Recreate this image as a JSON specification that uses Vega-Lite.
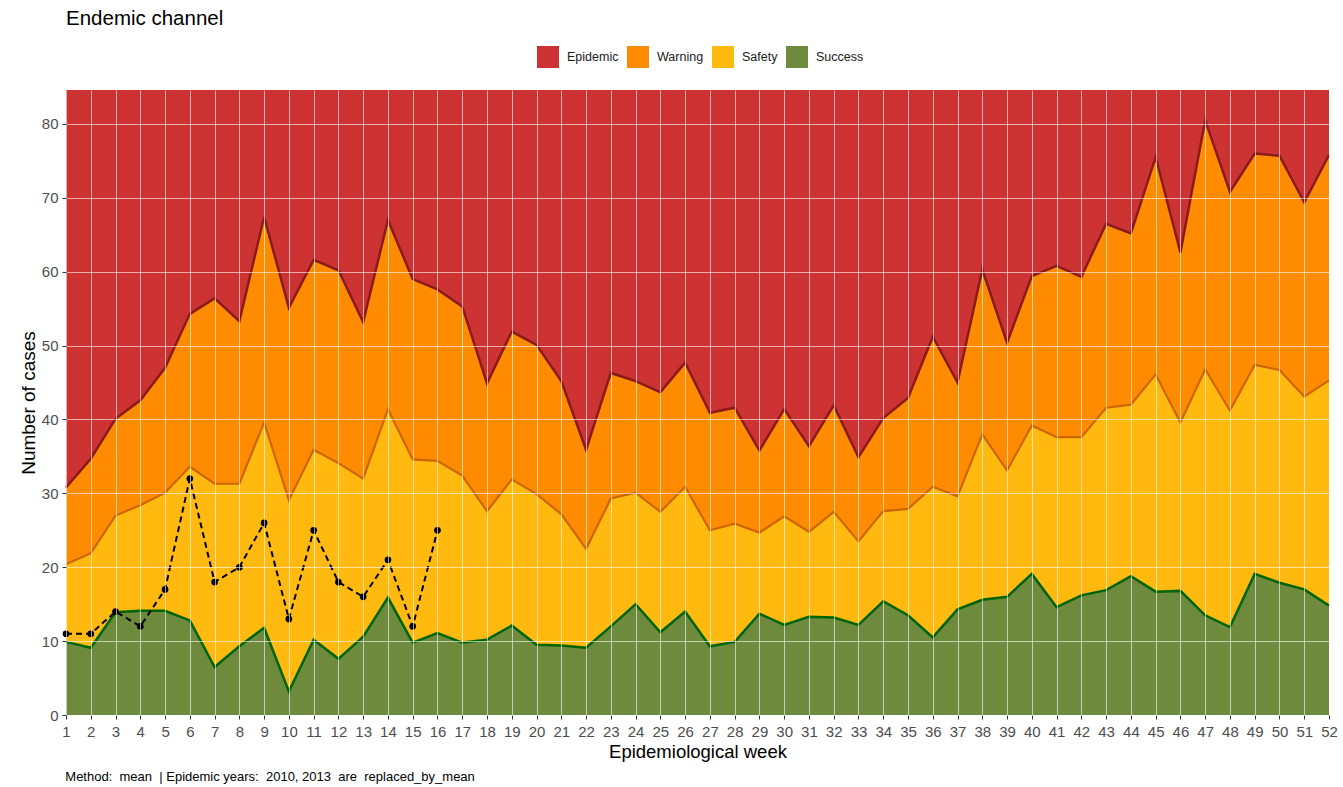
{
  "$schema": "https://vega.github.io/schema/vega-lite/v6.json",
  "background": "white",
  "padding": {"left": 19, "top": 8, "right": 5, "bottom": 2},
  "datasets": {
    "channel": [
      {"week": 1, "upper": 30.8, "middle": 20.4, "lower": 9.9},
      {"week": 2, "upper": 34.7, "middle": 21.9, "lower": 9.1},
      {"week": 3, "upper": 40.1, "middle": 27.0, "lower": 13.9},
      {"week": 4, "upper": 42.6, "middle": 28.4, "lower": 14.1},
      {"week": 5, "upper": 47.0, "middle": 30.1, "lower": 14.1},
      {"week": 6, "upper": 54.3, "middle": 33.6, "lower": 12.8},
      {"week": 7, "upper": 56.4, "middle": 31.3, "lower": 6.5},
      {"week": 8, "upper": 53.3, "middle": 31.3, "lower": 9.3},
      {"week": 9, "upper": 67.4, "middle": 39.6, "lower": 11.8},
      {"week": 10, "upper": 55.1, "middle": 29.1, "lower": 3.2},
      {"week": 11, "upper": 61.6, "middle": 35.9, "lower": 10.2},
      {"week": 12, "upper": 60.2, "middle": 34.1, "lower": 7.6},
      {"week": 13, "upper": 53.2, "middle": 32.0, "lower": 10.6},
      {"week": 14, "upper": 67.0, "middle": 41.4, "lower": 15.9},
      {"week": 15, "upper": 59.0, "middle": 34.6, "lower": 9.8},
      {"week": 16, "upper": 57.6, "middle": 34.4, "lower": 11.1},
      {"week": 17, "upper": 55.3, "middle": 32.4, "lower": 9.8},
      {"week": 18, "upper": 44.9, "middle": 27.6, "lower": 10.2},
      {"week": 19, "upper": 51.9, "middle": 31.9, "lower": 12.1},
      {"week": 20, "upper": 50.1, "middle": 29.9, "lower": 9.5},
      {"week": 21, "upper": 45.2, "middle": 27.2, "lower": 9.4},
      {"week": 22, "upper": 35.9, "middle": 22.5, "lower": 9.1},
      {"week": 23, "upper": 46.3, "middle": 29.3, "lower": 12.0},
      {"week": 24, "upper": 45.2, "middle": 30.1, "lower": 15.0},
      {"week": 25, "upper": 43.7, "middle": 27.5, "lower": 11.2},
      {"week": 26, "upper": 47.7, "middle": 30.9, "lower": 14.0},
      {"week": 27, "upper": 40.9, "middle": 25.0, "lower": 9.3},
      {"week": 28, "upper": 41.6, "middle": 25.9, "lower": 9.9},
      {"week": 29, "upper": 35.8, "middle": 24.7, "lower": 13.7},
      {"week": 30, "upper": 41.4, "middle": 26.9, "lower": 12.2},
      {"week": 31, "upper": 36.4, "middle": 24.8, "lower": 13.3},
      {"week": 32, "upper": 41.9, "middle": 27.5, "lower": 13.2},
      {"week": 33, "upper": 34.9, "middle": 23.5, "lower": 12.2},
      {"week": 34, "upper": 40.2, "middle": 27.6, "lower": 15.4},
      {"week": 35, "upper": 42.9, "middle": 27.9, "lower": 13.5},
      {"week": 36, "upper": 51.2, "middle": 30.9, "lower": 10.5},
      {"week": 37, "upper": 45.0, "middle": 29.6, "lower": 14.3},
      {"week": 38, "upper": 60.3, "middle": 38.0, "lower": 15.6},
      {"week": 39, "upper": 50.4, "middle": 33.1, "lower": 16.0},
      {"week": 40, "upper": 59.4, "middle": 39.2, "lower": 19.1},
      {"week": 41, "upper": 60.8, "middle": 37.6, "lower": 14.6},
      {"week": 42, "upper": 59.3, "middle": 37.6, "lower": 16.2},
      {"week": 43, "upper": 66.5, "middle": 41.6, "lower": 16.9},
      {"week": 44, "upper": 65.2, "middle": 42.0, "lower": 18.8},
      {"week": 45, "upper": 75.5, "middle": 46.1, "lower": 16.7},
      {"week": 46, "upper": 62.6, "middle": 39.6, "lower": 16.8},
      {"week": 47, "upper": 80.5, "middle": 46.8, "lower": 13.5},
      {"week": 48, "upper": 70.8, "middle": 41.2, "lower": 11.9},
      {"week": 49, "upper": 76.0, "middle": 47.4, "lower": 19.1},
      {"week": 50, "upper": 75.7, "middle": 46.7, "lower": 17.9},
      {"week": 51, "upper": 69.4, "middle": 43.1, "lower": 17.0},
      {"week": 52, "upper": 75.8, "middle": 45.3, "lower": 14.8}
    ],
    "observed": [
      {"week": 1, "cases": 11},
      {"week": 2, "cases": 11},
      {"week": 3, "cases": 14},
      {"week": 4, "cases": 12},
      {"week": 5, "cases": 17},
      {"week": 6, "cases": 32},
      {"week": 7, "cases": 18},
      {"week": 8, "cases": 20},
      {"week": 9, "cases": 26},
      {"week": 10, "cases": 13},
      {"week": 11, "cases": 25},
      {"week": 12, "cases": 18},
      {"week": 13, "cases": 16},
      {"week": 14, "cases": 21},
      {"week": 15, "cases": 12},
      {"week": 16, "cases": 25}
    ]
  },
  "title": {
    "text": "Method:\u00a0 mean\u00a0 | Epidemic years:\u00a0 2010, 2013\u00a0 are\u00a0 replaced_by_mean",
    "orient": "bottom",
    "anchor": "start",
    "frame": "bounds",
    "fontSize": 13,
    "fontWeight": "normal",
    "color": "#000000",
    "dx": 46,
    "offset": 10
  },
  "vconcat": [
    {
      "width": 1263,
      "height": 625,
      "title": {
        "text": "Endemic channel",
        "anchor": "start",
        "frame": "group",
        "fontSize": 20.5,
        "fontWeight": "normal",
        "color": "#000000",
        "offset": 61
      },
      "data": {"name": "channel"},
      "encoding": {
        "x": {
          "field": "week",
          "type": "quantitative",
          "title": "Epidemiological week",
          "scale": {"domain": [1, 52], "nice": false, "zero": false},
          "axis": {
            "values": [1,2,3,4,5,6,7,8,9,10,11,12,13,14,15,16,17,18,19,20,21,22,23,24,25,26,27,28,29,30,31,32,33,34,35,36,37,38,39,40,41,42,43,44,45,46,47,48,49,50,51,52],
            "format": "d",
            "labelFlush": false,
            "labelOverlap": false,
            "labelFontSize": 15,
            "labelColor": "#4D4D4D",
            "labelPadding": 5,
            "tickColor": "#333333",
            "tickSize": 4,
            "domain": false,
            "grid": true,
            "gridColor": "#FFFFFF",
            "gridOpacity": 0.6,
            "gridWidth": 1,
            "titleFontSize": 18.5,
            "titleFontWeight": "normal",
            "titleColor": "#000000",
            "titlePadding": 3,
            "zindex": 1
          }
        }
      },
      "layer": [
        {
          "mark": {"type": "area", "opacity": 1},
          "encoding": {
            "y": {
              "field": "upper",
              "type": "quantitative",
              "title": "Number of cases",
              "scale": {"domain": [0, 84.6], "nice": false, "zero": true},
              "axis": {
                "values": [0,5,10,15,20,25,30,35,40,45,50,55,60,65,70,75,80],
                "labelExpr": "datum.value % 10 == 0 ? datum.label : ''",
                "tickOpacity": {"condition": {"test": "datum.value % 10 == 0", "value": 1}, "value": 0},
                "labelFontSize": 15,
                "labelColor": "#4D4D4D",
                "labelPadding": 4,
                "tickColor": "#333333",
                "tickSize": 4,
                "domain": false,
                "grid": true,
                "gridColor": "#FFFFFF",
                "gridOpacity": 0.6,
                "gridWidth": 1,
                "titleFontSize": 19,
                "titleFontWeight": "normal",
                "titleColor": "#000000",
                "titlePadding": 3,
                "zindex": 1
              }
            },
            "y2": {"datum": 84.6},
            "color": {
              "datum": "Epidemic",
              "type": "nominal",
              "scale": {
                "domain": ["Epidemic", "Warning", "Safety", "Success"],
                "range": ["#CD3333", "#FF8C00", "#FFB90F", "#6E8B3D"]
              },
              "legend": {
                "title": null,
                "orient": "none",
                "direction": "horizontal",
                "legendX": 471,
                "legendY": -44,
                "symbolType": "square",
                "symbolSize": 484,
                "symbolStrokeWidth": 0,
                "symbolOpacity": 1,
                "labelFontSize": 12.5,
                "labelColor": "#1A1A1A",
                "labelOffset": 8,
                "columnPadding": 8
              }
            }
          }
        },
        {
          "mark": {"type": "area", "opacity": 1},
          "encoding": {
            "y": {"field": "upper", "type": "quantitative", "title": "Number of cases"},
            "color": {"datum": "Warning", "type": "nominal"}
          }
        },
        {
          "mark": {"type": "area", "opacity": 1},
          "encoding": {
            "y": {"field": "middle", "type": "quantitative", "title": "Number of cases"},
            "color": {"datum": "Safety", "type": "nominal"}
          }
        },
        {
          "mark": {"type": "area", "opacity": 1},
          "encoding": {
            "y": {"field": "lower", "type": "quantitative", "title": "Number of cases"},
            "color": {"datum": "Success", "type": "nominal"}
          }
        },
        {
          "mark": {"type": "line", "color": "#8B1A1A", "strokeWidth": 2.5},
          "encoding": {
            "y": {"field": "upper", "type": "quantitative", "title": "Number of cases"}
          }
        },
        {
          "mark": {"type": "line", "color": "#CD6600", "strokeWidth": 2.2},
          "encoding": {
            "y": {"field": "middle", "type": "quantitative", "title": "Number of cases"}
          }
        },
        {
          "mark": {"type": "line", "color": "#006400", "strokeWidth": 2.5},
          "encoding": {
            "y": {"field": "lower", "type": "quantitative", "title": "Number of cases"}
          }
        },
        {
          "data": {"name": "observed"},
          "mark": {"type": "line", "color": "#000000", "strokeWidth": 2, "strokeDash": [6, 4]},
          "encoding": {
            "y": {"field": "cases", "type": "quantitative", "title": "Number of cases"}
          }
        },
        {
          "data": {"name": "observed"},
          "mark": {"type": "point", "filled": true, "color": "#000000", "opacity": 1, "size": 45},
          "encoding": {
            "y": {"field": "cases", "type": "quantitative", "title": "Number of cases"}
          }
        }
      ]
    }
  ],
  "config": {
    "font": "Liberation Sans",
    "view": {"stroke": null},
    "concat": {"spacing": 0}
  }
}
